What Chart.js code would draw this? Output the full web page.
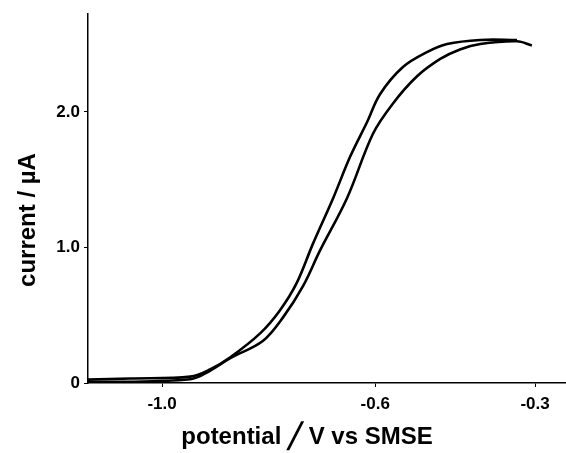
<!DOCTYPE html>
<html>
<head>
<meta charset="utf-8">
<script src="https://cdn.jsdelivr.net/npm/chart.js@4"></script>
<style>
  html, body { margin: 0; padding: 0; background: #fff; }
  #wrap { width: 566px; height: 453px; position: relative; }
</style>
</head>
<body>
<div id="wrap"><canvas id="cv"></canvas></div>
<script>
// anodic branch (outer / upper curve), potential in V vs SMSE, current in uA
const potentialA = [-1.139, -1.060, -0.947, -0.910, -0.872, -0.816, -0.779, -0.747, -0.717, -0.679, -0.647, -0.615, -0.591, -0.548, -0.503, -0.465, -0.403, -0.334];
const currentA   = [0.025, 0.033, 0.047, 0.10, 0.19, 0.366, 0.535, 0.74, 1.026, 1.363, 1.67, 1.927, 2.13, 2.33, 2.44, 2.50, 2.53, 2.53];

// cathodic branch (inner / lower curve)
const potentialC = [-1.139, -0.947, -0.910, -0.872, -0.811, -0.773, -0.735, -0.704, -0.653, -0.604, -0.567, -0.522, -0.478, -0.441, -0.403, -0.334, -0.306];
const currentC   = [0.005, 0.028, 0.09, 0.183, 0.31, 0.484, 0.718, 0.974, 1.363, 1.84, 2.06, 2.26, 2.39, 2.46, 2.50, 2.52, 2.49];

const xTicks = [-1.0, -0.6, -0.3];
const yTicks = [0, 1.0, 2.0];

const font = 'Liberation Sans, Arial, sans-serif';

function pts(xs, ys) {
    return xs.map((x, i) => ({ x: x, y: ys[i] }));
}

const lineStyle = {
    showLine: true,
    borderColor: '#000',
    borderWidth: 2.6,
    pointRadius: 0,
    tension: 0.35,
    fill: false
};

// titles drawn by hand so they sit where the original has them
const axisTitles = {
    id: 'axisTitles',
    afterDraw(chart) {
        const ctx = chart.ctx;
        ctx.save();
        ctx.fillStyle = '#000';
        ctx.font = 'bold 24px ' + font;
        ctx.textAlign = 'center';
        ctx.textBaseline = 'middle';
        ctx.fillText('potential \u2571 V vs SMSE', 307, 437);
        ctx.translate(28, 220);
        ctx.rotate(-Math.PI / 2);
        ctx.fillText('current / \u00b5A', 0, 0);
        ctx.restore();
    }
};

new Chart(document.getElementById('cv'), {
    type: 'scatter',
    data: {
        datasets: [
            Object.assign({ label: 'anodic', data: pts(potentialA, currentA) }, lineStyle),
            Object.assign({ label: 'cathodic', data: pts(potentialC, currentC) }, lineStyle)
        ]
    },
    options: {
        responsive: true,
        maintainAspectRatio: false,
        animation: false,
        layout: { padding: { top: 0, right: 0, left: 0, bottom: 0 } },
        plugins: {
            legend: { display: false },
            tooltip: { enabled: false }
        },
        scales: {
            x: {
                type: 'linear',
                min: -1.139,
                max: -0.242,
                afterBuildTicks: (s) => { s.ticks = xTicks.map(v => ({ value: v })); },
                afterFit: (s) => { s.height = 70; },
                border: { display: true, color: '#000', width: 1.5 },
                grid: { drawOnChartArea: false, drawTicks: true, tickLength: 4, color: '#000' },
                ticks: {
                    color: '#000',
                    padding: 7,
                    font: { family: font, size: 17, weight: 'bold' },
                    callback: (v) => v.toFixed(1)
                }
            },
            y: {
                type: 'linear',
                min: 0,
                max: 2.72,
                afterBuildTicks: (s) => { s.ticks = yTicks.map(v => ({ value: v })); },
                afterFit: (s) => { s.width = 88; },
                border: { display: true, color: '#000', width: 1.5 },
                grid: { drawOnChartArea: false, drawTicks: true, tickLength: 4, color: '#000' },
                ticks: {
                    color: '#000',
                    padding: 4,
                    font: { family: font, size: 17, weight: 'bold' },
                    callback: (v) => v === 0 ? '0' : v.toFixed(1)
                }
            }
        }
    },
    plugins: [axisTitles]
});
</script>
</body>
</html>
